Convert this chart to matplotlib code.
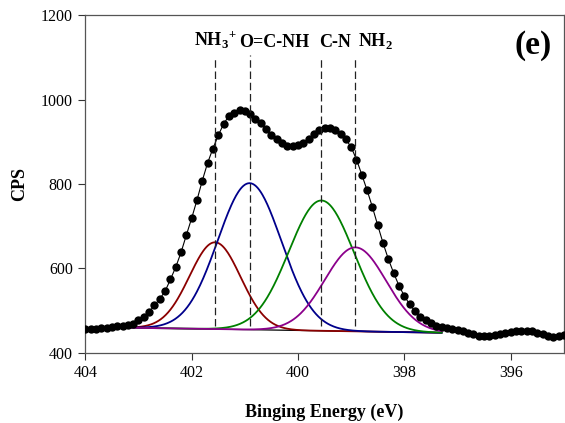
import numpy as np
import matplotlib
matplotlib.use("Agg")
import matplotlib.pyplot as plt

plt.rcParams["font.family"] = ["Liberation Serif", "DejaVu Serif"]
plt.rcParams["mathtext.fontset"] = "custom"
plt.rcParams["mathtext.rm"] = "Liberation Serif:bold"
plt.rcParams["mathtext.bf"] = "Liberation Serif:bold"

# N 1s spectrum, 0.1 eV steps from 404.0 down to 395.0
energy = np.linspace(404.0, 395.0, 91)
cps = [
    457, 456, 457, 459, 460, 461, 463, 464, 466, 469,
    477, 485, 497, 513, 528, 546, 574, 603, 638, 679,
    719, 762, 808, 850, 884, 915, 942, 961, 969, 974,
    972, 966, 954, 944, 931, 917, 906, 897, 891, 889,
    892, 897, 907, 918, 927, 932, 933, 928, 919, 906,
    887, 858, 822, 785, 745, 702, 660, 622, 589, 559,
    535, 515, 499, 486, 477, 470, 464, 461, 459, 457,
    455, 452, 448, 444, 441, 440, 441, 443, 445, 448,
    450, 451, 452, 452, 451, 448, 444, 440, 438, 440,
    443,
]

# fitted components
peak_names = [r"NH$_\mathbf{3}$$^\mathbf{+}$", "O=C-NH", "C-N", r"NH$_\mathbf{2}$"]
peak_centers = [401.56, 400.91, 399.56, 398.92]
peak_heights = [662, 802, 761, 650]
peak_fwhm = [1.13, 1.41, 1.44, 1.36]
peak_colors = ["#8b0000", "#00008b", "#008000", "#8b008b"]

# linear background under the fit
bg_energy = [397.3, 403.3]
bg_cps = [448, 460]

fig = plt.figure(figsize=(5.65, 4.23), dpi=100)
ax = fig.add_axes([0.151, 0.1655, 0.847, 0.799])

fit_x = np.linspace(bg_energy[1], bg_energy[0], 400)
bg = np.interp(fit_x, bg_energy, bg_cps)
ax.plot(fit_x, bg, color="black", lw=0.9, zorder=2)

for c, h, w, col in zip(peak_centers, peak_heights, peak_fwhm, peak_colors):
    sigma = w / 2.3548
    amp = h - np.interp(c, bg_energy, bg_cps)
    ax.plot(fit_x, bg + amp * np.exp(-0.5 * ((fit_x - c) / sigma) ** 2),
            color=col, lw=1.3, zorder=3)

ax.plot(energy, cps, color="black", lw=0.8, marker="o", markersize=6,
        markeredgewidth=0, zorder=4)

for c, dy in zip(peak_centers, [0, 10, 0, 0]):
    ax.vlines(c, 465, 1095 + dy, colors="#222222", linestyles=(0, (6, 3)),
              lw=0.9, zorder=5)

label_x = [401.55, 400.45, 399.3, 398.55]
for x, name in zip(label_x, peak_names):
    ax.text(x, 1116, name, ha="center", va="bottom", fontsize=13,
            fontweight="bold")

ax.text(395.22, 1128, "(e)", ha="right", va="center", fontsize=24,
        fontweight="bold")

ax.set_xlim(404, 395)
ax.set_ylim(400, 1200)
ax.set_xticks([404, 402, 400, 398, 396])
ax.set_yticks([400, 600, 800, 1000, 1200])
ax.tick_params(direction="out", length=5, width=0.8, labelsize=11.5,
               colors="#333333", labelcolor="black", pad=4)
for s in ax.spines.values():
    s.set_color("#555555")
    s.set_linewidth(0.9)

ax.set_xlabel("Binging Energy (eV)", fontsize=13, fontweight="bold",
              labelpad=16)
ax.set_ylabel("CPS", fontsize=13, fontweight="bold", labelpad=9)

fig.savefig("out.png", dpi=100)
